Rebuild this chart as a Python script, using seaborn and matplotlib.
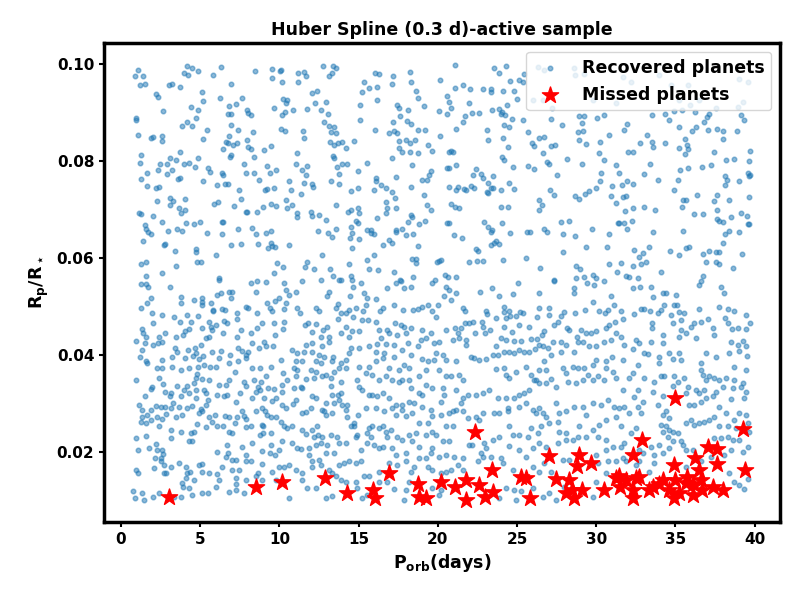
import matplotlib
matplotlib.use("Agg")
import pandas as pd
import seaborn as sns
import matplotlib.pyplot as plt

# recovered planets, (orbital period [d], Rp/Rs) in blocks
rec_upper_a = [
    (1.09, .0988), (0.88, .0975), (1.41, .0975), (1.18, .0957), (1.51, .0958), (4.19, .0996), (4.46, .0991), (3.98, .0982),
    (4.25, .0977), (4.88, .0986), (5.83, .0977), (6.33, .0993), (8.46, .0986), (9.56, .0989), (9.56, .0971), (10.02, .0986),
    (3.03, .0957), (3.24, .0958), (3.72, .0952), (6.97, .0958), (5.13, .0942), (2.19, .0938), (2.36, .0933), (6.25, .0931),
    (7.66, .0931), (5.20, .0924), (6.82, .0914), (7.28, .0918), (4.44, .0911), (4.88, .0905), (2.67, .0903), (9.66, .0909),
    (7.93, .0905), (8.04, .0900), (8.19, .0894), (6.78, .0897), (6.92, .0897), (0.97, .0889), (0.97, .0885), (4.76, .0888),
    (4.19, .0880), (3.87, .0872), (4.50, .0872), (6.97, .0874), (7.41, .0865), (5.45, .0864), (8.36, .0860), (1.09, .0854),
    (1.87, .0847), (2.04, .0849), (2.61, .0852), (2.61, .0842), (5.20, .0845), (6.82, .0852), (6.61, .0839), (6.76, .0837),
    (7.09, .0834), (7.35, .0837), (7.93, .0843), (8.04, .0830), (8.19, .0825), (6.46, .0825), (9.03, .0823), (9.49, .0831),
    (1.28, .0813), (1.20, .0797), (3.72, .0818), (2.46, .0794), (3.09, .0806), (3.45, .0802), (2.92, .0795), (3.24, .0781),
    (2.36, .0781), (4.00, .0793), (4.29, .0797), (4.88, .0806), (4.67, .0787), (6.92, .0813), (6.88, .0808), (7.79, .0795),
    (8.42, .0809), (9.24, .0790), (9.77, .0781), (5.49, .0785), (5.64, .0777), (6.40, .0776), (6.46, .0771), (7.89, .0775),
    (8.42, .0775), (9.39, .0775), (1.66, .0775), (1.28, .0763), (3.62, .0763), (3.72, .0766), (2.92, .0773), (5.20, .0759),
    (6.08, .0751), (6.57, .0752), (6.74, .0752), (8.71, .0762), (1.66, .0749), (2.23, .0744), (2.40, .0746), (7.45, .0740),
    (9.09, .0740), (9.24, .0742), (9.66, .0744), (2.25, .0718), (3.09, .0723), (3.30, .0718), (3.09, .0709), (4.06, .0721),
    (3.64, .0703), (4.06, .0700), (3.81, .0692), (5.87, .0711), (6.12, .0715), (7.16, .0707), (7.56, .0721), (7.87, .0696),
    (7.98, .0696), (8.61, .0696), (8.99, .0706), (9.45, .0711), (9.77, .0707), (1.13, .0692), (1.24, .0691), (2.04, .0687),
    (1.51, .0668), (1.56, .0659), (1.70, .0653), (1.89, .0650), (2.61, .0674), (2.99, .0656), (3.51, .0661), (3.87, .0656),
    (4.12, .0672), (4.61, .0670), (4.99, .0674), (5.45, .0651), (6.40, .0674), (6.46, .0675), (6.40, .0650), (7.41, .0659),
    (8.29, .0663), (8.50, .0649), (9.13, .0651), (9.45, .0656), (1.41, .0635), (2.78, .0630), (2.71, .0626), (3.41, .0615),
    (4.71, .0618), (4.76, .0612), (5.98, .0606), (6.97, .0627), (7.60, .0630), (8.67, .0630), (9.45, .0632), (9.56, .0625),
    (9.72, .0622), (9.28, .0620), (1.28, .0587), (1.56, .0592), (4.82, .0592), (5.07, .0591), (3.49, .0583), (2.61, .0570),
    (1.56, .0564), (6.19, .0558), (9.66, .0570), (9.87, .0589),
]

rec_upper_b = [
    (10.09, .0988), (10.19, .0962), (11.20, .0981), (11.56, .0984), (11.66, .0975), (11.20, .0962), (12.78, .0996), (13.41, .0995),
    (13.56, .0991), (13.35, .0982), (13.14, .0975), (10.23, .0929), (10.51, .0926), (10.40, .0920), (12.09, .0940), (12.40, .0944),
    (12.25, .0919), (12.97, .0921), (11.77, .0907), (10.89, .0905), (10.36, .0902), (10.19, .0895), (12.61, .0905), (13.10, .0898),
    (12.82, .0880), (13.14, .0872), (13.45, .0870), (13.56, .0857), (13.24, .0859), (11.52, .0862), (11.56, .0847), (10.36, .0861),
    (10.09, .0867), (13.20, .0840), (13.45, .0833), (13.73, .0837), (13.94, .0840), (14.23, .0826), (14.74, .0842), (13.41, .0810),
    (13.45, .0807), (11.14, .0816), (11.07, .0793), (11.45, .0782), (11.77, .0790), (11.71, .0771), (13.66, .0787), (13.98, .0795),
    (14.30, .0795), (13.79, .0773), (14.97, .0779), (15.50, .0797), (10.61, .0759), (11.56, .0754), (12.09, .0752), (12.13, .0746),
    (10.76, .0740), (11.35, .0732), (13.29, .0759), (13.79, .0752), (14.53, .0738), (14.99, .0745), (10.44, .0720), (10.51, .0703),
    (10.78, .0709), (11.14, .0694), (11.14, .0685), (12.02, .0696), (12.09, .0687), (12.53, .0689), (12.93, .0678), (13.60, .0709),
    (14.36, .0696), (14.53, .0699), (14.99, .0703), (15.05, .0694), (14.82, .0676), (14.99, .0672), (14.53, .0665), (14.61, .0651),
    (12.46, .0656), (13.10, .0651), (13.35, .0644), (13.56, .0659), (14.44, .0642), (15.03, .0639), (10.61, .0627), (14.61, .0620),
    (12.67, .0606), (11.77, .0591), (11.62, .0582), (12.19, .0577), (10.25, .0582), (13.22, .0577), (13.41, .0564), (14.42, .0588),
    (14.51, .0564), (13.90, .0555),
    (15.37, .0964), (15.20, .0942), (15.66, .0950), (16.02, .0981), (16.30, .0979), (16.19, .0952), (16.19, .0926), (17.20, .0976),
    (17.14, .0958), (18.23, .0983), (18.30, .0964), (20.17, .0967), (18.65, .0944), (18.72, .0931), (20.61, .0935), (15.10, .0916),
    (15.10, .0885), (16.06, .0864), (17.45, .0916), (17.56, .0909), (18.09, .0905), (17.62, .0893), (18.06, .0883), (18.30, .0876),
    (17.20, .0880), (16.89, .0857), (17.24, .0861), (17.41, .0857), (18.78, .0865), (19.20, .0864), (19.14, .0914), (20.09, .0903),
    (20.61, .0897), (17.52, .0841), (17.98, .0843), (18.25, .0837), (18.57, .0843), (17.56, .0826), (17.73, .0818), (18.23, .0819),
    (18.72, .0816), (19.41, .0833), (19.66, .0821), (20.17, .0852), (20.72, .0818), (17.10, .0806), (18.40, .0791), (16.13, .0766),
    (16.13, .0759), (16.40, .0751), (16.72, .0744), (17.39, .0767), (17.14, .0737), (17.29, .0723), (18.30, .0746), (18.99, .0762),
    (19.29, .0761), (19.56, .0780), (19.45, .0771), (20.61, .0785), (19.10, .0731), (15.98, .0740), (16.72, .0715), (16.82, .0704),
    (16.72, .0692), (17.35, .0703), (16.15, .0682), (17.33, .0654), (17.39, .0658), (17.77, .0661), (18.36, .0685), (18.30, .0689),
    (18.15, .0674), (18.82, .0670), (19.18, .0677), (19.31, .0709), (19.60, .0700), (20.61, .0672), (17.98, .0647), (18.46, .0649),
    (15.52, .0658), (15.77, .0658), (15.98, .0649), (15.77, .0652), (16.93, .0637), (17.10, .0632), (16.57, .0627), (18.78, .0625),
    (18.40, .0599), (18.65, .0599), (18.65, .0589), (15.50, .0597), (15.98, .0606), (15.66, .0577), (16.25, .0575), (17.24, .0571),
    (17.60, .0555), (18.46, .0562), (20.09, .0595), (20.19, .0597), (19.98, .0591), (20.44, .0565), (20.67, .0562),
]

rec_upper_c = [
    (21.10, .0998), (23.56, .0991), (23.84, .0982), (24.30, .0996), (24.57, .0965), (25.10, .0967), (25.39, .0964), (25.46, .0979),
    (21.56, .0957), (21.10, .0950), (22.05, .0948), (22.83, .0948), (23.35, .0948), (23.35, .0943), (24.13, .0944), (24.78, .0944),
    (24.99, .0929), (20.72, .0922), (21.94, .0920), (20.83, .0909), (22.19, .0900), (22.57, .0900), (23.41, .0905), (23.88, .0907),
    (24.05, .0902), (23.98, .0897), (24.26, .0895), (24.66, .0886), (24.34, .0916), (25.35, .0885), (21.56, .0881), (21.73, .0892),
    (21.18, .0867), (24.19, .0874), (24.47, .0870), (23.08, .0864), (23.20, .0843), (24.13, .0847), (24.40, .0828), (25.67, .0859),
    (25.94, .0837), (26.09, .0831), (26.40, .0847), (26.72, .0849), (27.14, .0886), (27.81, .0874), (27.14, .0831), (27.41, .0833),
    (26.61, .0816), (26.89, .0799), (27.04, .0795), (28.13, .0804), (28.89, .0893), (29.25, .0893), (29.10, .0879), (30.03, .0888),
    (30.51, .0895), (28.83, .0859), (29.14, .0862), (28.89, .0843), (29.35, .0835), (30.78, .0854), (30.24, .0839), (30.19, .0817),
    (30.51, .0802), (20.99, .0819), (20.83, .0821), (21.18, .0792), (20.72, .0785), (24.05, .0808), (24.15, .0802), (24.72, .0787),
    (25.67, .0790), (26.09, .0783), (27.50, .0771), (29.10, .0795), (30.30, .0776), (30.24, .0759), (31.25, .0792), (22.40, .0784),
    (22.24, .0771), (22.72, .0773), (22.83, .0766), (23.46, .0769), (23.20, .0754), (23.35, .0744), (23.50, .0744), (23.10, .0737),
    (23.20, .0735), (23.98, .0740), (24.51, .0755), (24.78, .0742), (22.09, .0749), (22.30, .0744), (21.25, .0747), (21.63, .0742),
    (21.77, .0740), (21.14, .0740), (20.72, .0747), (20.83, .0711), (21.10, .0706), (21.31, .0703), (23.98, .0706), (24.40, .0706),
    (26.40, .0720), (26.57, .0709), (26.40, .0700), (27.08, .0740), (27.35, .0731), (28.68, .0728), (28.89, .0721), (29.31, .0733),
    (29.56, .0738), (29.98, .0744), (30.97, .0749), (30.93, .0727), (31.25, .0714), (31.35, .0672), (22.93, .0674), (23.14, .0665),
    (23.41, .0658), (23.35, .0654), (24.03, .0672), (24.57, .0651), (25.63, .0654), (25.84, .0653), (26.72, .0661), (26.87, .0654),
    (27.77, .0675), (28.30, .0676), (29.73, .0661), (27.88, .0650), (28.68, .0646), (30.78, .0649), (21.04, .0648), (21.52, .0641),
    (20.72, .0672), (23.67, .0635), (23.56, .0632), (23.35, .0628), (23.84, .0630), (22.40, .0618), (22.51, .0615), (29.35, .0622),
    (30.66, .0623), (27.88, .0613), (21.98, .0591), (22.47, .0594), (22.83, .0594), (24.09, .0597), (25.56, .0601), (26.45, .0579),
    (28.72, .0584), (28.99, .0577), (29.77, .0565), (29.98, .0560), (30.78, .0588), (31.29, .0571), (27.35, .0555), (28.72, .0560),
    (29.25, .0562), (21.14, .0562), (26.30, .0993), (26.72, .0988), (28.61, .0991), (28.68, .0977), (29.25, .0979), (25.98, .0926),
    (26.61, .0925), (29.81, .0926), (31.25, .0919), (27.20, .0909),
]

rec_upper_d = [
    (33.50, .0895), (34.37, .0898), (34.62, .0885), (34.93, .0903), (35.40, .0905), (36.26, .0902), (37.10, .0898), (36.98, .0890),
    (36.83, .0881), (39.14, .0894), (39.31, .0885), (31.92, .0876), (31.78, .0865), (33.19, .0854), (33.50, .0840), (33.57, .0830),
    (32.77, .0837), (31.99, .0818), (32.34, .0818), (34.37, .0837), (35.21, .0870), (35.63, .0845), (35.73, .0833), (35.78, .0824),
    (35.21, .0826), (36.03, .0861), (36.30, .0871), (37.04, .0864), (37.61, .0867), (37.99, .0862), (38.03, .0845), (38.87, .0861),
    (35.61, .0814), (37.46, .0818), (39.69, .0821), (39.63, .0800), (38.20, .0802), (38.72, .0804), (33.42, .0795), (35.31, .0781),
    (35.78, .0785), (36.66, .0787), (37.25, .0792), (31.46, .0776), (33.04, .0773), (33.88, .0761), (31.94, .0759), (32.30, .0753),
    (31.63, .0751), (35.14, .0761), (34.93, .0740), (38.15, .0770), (38.24, .0761), (38.15, .0751), (39.00, .0759), (39.63, .0769),
    (39.57, .0776), (39.71, .0771), (31.88, .0729), (31.67, .0725), (35.46, .0720), (35.67, .0720), (36.34, .0730), (37.61, .0730),
    (37.46, .0718), (38.41, .0720), (39.63, .0725), (31.84, .0697), (32.34, .0703), (33.04, .0706), (33.73, .0699), (35.40, .0706),
    (36.20, .0691), (36.77, .0691), (37.61, .0699), (37.61, .0680), (37.78, .0676), (37.99, .0674), (38.51, .0685), (39.14, .0694),
    (39.50, .0687), (39.57, .0670), (39.67, .0670), (31.46, .0672), (31.78, .0672), (32.24, .0676), (31.92, .0661), (33.57, .0653),
    (35.46, .0656), (38.41, .0656), (38.15, .0650), (39.04, .0653), (37.99, .0632), (32.41, .0617), (32.93, .0610), (32.68, .0603),
    (33.35, .0622), (34.68, .0615), (35.21, .0606), (35.67, .0620), (35.84, .0623), (36.72, .0608), (37.14, .0615), (37.57, .0612),
    (37.73, .0613), (39.19, .0609), (33.14, .0591), (32.83, .0587), (32.30, .0584), (31.57, .0589), (34.07, .0572), (36.93, .0591),
    (37.57, .0591), (37.78, .0588), (38.62, .0579), (31.88, .0563), (32.09, .0562), (32.62, .0560), (36.77, .0563), (31.67, .0974),
    (32.20, .0962), (33.99, .0977), (34.72, .0957), (35.78, .0957), (39.04, .0969), (39.57, .0962), (35.25, .0926), (35.92, .0916),
    (36.51, .0926), (37.57, .0909), (39.25, .0922), (38.93, .0911),
]

rec_lower_a = [
    (1.24, .0547), (1.60, .0547), (1.72, .0540), (3.07, .0540), (6.19, .0555), (8.19, .0548), (8.57, .0552), (9.13, .0550),
    (8.55, .0531), (6.82, .0531), (6.29, .0528), (6.04, .0524), (5.66, .0508), (5.09, .0517), (5.09, .0510), (5.09, .0503),
    (4.61, .0514), (3.81, .0519), (3.81, .0507), (1.87, .0517), (1.66, .0508), (1.24, .0497), (6.92, .0517), (7.03, .0531),
    (7.91, .0500), (8.04, .0497), (9.24, .0507), (9.39, .0497), (9.51, .0490), (9.70, .0512), (5.83, .0493), (5.83, .0490),
    (6.40, .0495), (6.55, .0493), (7.35, .0486), (7.35, .0474), (8.61, .0486), (1.93, .0486), (2.61, .0483), (3.35, .0479),
    (4.19, .0483), (4.88, .0481), (4.40, .0469), (3.72, .0469), (2.02, .0466), (5.56, .0469), (5.66, .0459), (5.77, .0452),
    (5.98, .0462), (6.50, .0471), (6.67, .0466), (6.46, .0446), (5.09, .0455), (4.29, .0453), (4.04, .0449), (3.91, .0442),
    (3.45, .0438), (2.78, .0445), (2.40, .0438), (2.61, .0428), (2.33, .0424), (2.04, .0421), (1.35, .0453), (1.41, .0445),
    (1.56, .0438), (0.97, .0429), (1.51, .0424), (1.30, .0411), (1.18, .0396), (1.56, .0387), (2.61, .0390), (3.39, .0414),
    (3.56, .0407), (4.23, .0411), (4.76, .0405), (5.03, .0421), (5.35, .0435), (5.56, .0438), (4.67, .0414), (5.72, .0407),
    (6.33, .0409), (6.19, .0394), (5.18, .0398), (4.92, .0391), (4.57, .0398), (4.02, .0394), (3.24, .0397), (6.88, .0400),
    (7.41, .0414), (7.62, .0409), (7.87, .0400), (7.91, .0394), (8.04, .0407), (8.29, .0424), (8.71, .0414), (9.03, .0428),
    (9.13, .0418), (9.62, .0418), (9.72, .0442), (9.66, .0466), (8.92, .0466), (8.61, .0455), (7.56, .0452), (7.30, .0438),
    (8.19, .0445), (7.41, .0387), (6.82, .0383), (7.20, .0366), (5.98, .0376), (5.60, .0376), (5.24, .0380), (4.86, .0375),
    (4.82, .0361), (4.29, .0373), (3.77, .0369), (3.24, .0376), (2.61, .0373), (2.29, .0373), (1.66, .0383), (8.29, .0373),
    (8.78, .0373), (9.45, .0376), (9.13, .0356), (8.82, .0345), (9.30, .0332), (9.66, .0330), (9.77, .0311), (9.51, .0306),
    (9.03, .0311), (8.65, .0334), (8.76, .0328), (8.50, .0323), (8.40, .0349), (8.29, .0311), (7.77, .0345), (7.87, .0337),
    (7.49, .0321), (7.24, .0304), (6.82, .0349), (6.61, .0339), (6.19, .0339), (6.08, .0318), (6.50, .0315), (6.71, .0318),
    (5.56, .0349), (5.09, .0351), (4.76, .0352), (4.61, .0342), (4.71, .0328), (5.24, .0328), (5.35, .0321), (5.51, .0308),
    (5.35, .0297), (5.03, .0288), (4.76, .0311), (4.29, .0321), (3.98, .0328), (4.19, .0337), (3.56, .0337), (3.77, .0316),
    (3.66, .0294), (3.30, .0301), (3.07, .0315), (3.13, .0321), (2.78, .0325), (2.65, .0341), (2.40, .0352), (1.98, .0335),
    (1.87, .0330), (1.51, .0315), (0.92, .0349), (1.13, .0297), (1.30, .0287), (1.35, .0273), (1.66, .0277), (1.87, .0287),
    (2.19, .0295), (2.50, .0294), (2.78, .0294), (3.13, .0290), (2.82, .0278), (2.29, .0272), (2.61, .0268), (1.87, .0266),
    (1.24, .0263), (1.56, .0260), (2.40, .0253), (3.45, .0273), (3.83, .0277), (4.19, .0292), (4.46, .0295), (4.92, .0280),
    (5.13, .0284), (5.56, .0272), (5.93, .0277), (5.77, .0263), (6.57, .0275), (6.82, .0273), (7.35, .0273), (7.77, .0275),
    (7.91, .0268), (7.62, .0285), (8.50, .0284), (8.92, .0290), (9.07, .0284), (9.24, .0277), (9.45, .0273), (9.77, .0273),
    (8.88, .0256), (8.97, .0253), (9.45, .0240), (8.97, .0239), (8.76, .0236), (8.19, .0253), (7.87, .0251), (7.20, .0260),
    (7.03, .0239), (6.82, .0242), (6.46, .0253), (6.08, .0253), (5.35, .0251), (4.82, .0258), (4.61, .0242), (4.40, .0239),
    (4.50, .0222), (4.29, .0222), (3.77, .0242), (3.13, .0246), (3.13, .0229), (1.56, .0234), (0.92, .0229), (1.77, .0208),
    (2.23, .0217), (2.29, .0205), (2.61, .0205), (2.65, .0196), (2.50, .0187), (2.15, .0187), (2.50, .0181), (2.71, .0174),
    (2.08, .0167), (1.09, .0205), (0.92, .0163), (1.09, .0158), (3.13, .0170), (3.66, .0177), (4.08, .0170), (4.33, .0160),
    (4.92, .0174), (5.09, .0176), (5.56, .0158), (6.08, .0154), (6.08, .0201), (6.67, .0214), (6.76, .0198), (6.61, .0191),
    (7.03, .0184), (7.24, .0184), (7.66, .0211), (7.87, .0194), (8.19, .0181), (7.45, .0163), (7.87, .0181), (8.29, .0218),
    (8.92, .0203), (9.49, .0215), (9.41, .0198), (9.70, .0194), (8.92, .0176), (9.56, .0160), (8.67, .0157), (7.24, .0146),
    (7.03, .0163), (6.40, .0170), (6.19, .0143), (7.28, .0135), (7.87, .0143), (8.50, .0150), (8.92, .0143), (9.77, .0143),
    (4.19, .0157), (4.08, .0146), (3.83, .0136), (4.61, .0143), (5.13, .0160), (3.91, .0129), (4.29, .0126), (3.77, .0108),
    (4.50, .0112), (5.13, .0115), (5.49, .0115), (5.98, .0129), (6.82, .0117), (7.24, .0122), (7.77, .0115), (0.76, .0120),
    (0.88, .0105), (1.35, .0115), (1.45, .0102), (2.04, .0108), (2.40, .0115), (2.71, .0158), (2.82, .0157), (3.35, .0108),
]

rec_lower_b = [
    (11.45, .0552), (10.30, .0548), (10.44, .0534), (10.61, .0524), (11.07, .0531), (9.98, .0517), (10.40, .0507), (10.30, .0495),
    (11.14, .0497), (11.29, .0486), (12.61, .0555), (13.77, .0555), (14.57, .0555), (14.65, .0541), (15.14, .0548), (13.14, .0531),
    (12.99, .0522), (14.46, .0521), (15.35, .0528), (15.50, .0517), (16.82, .0538), (17.35, .0548), (17.66, .0552), (17.87, .0538),
    (18.30, .0541), (19.62, .0548), (19.83, .0555), (20.51, .0541), (20.40, .0521), (20.04, .0503), (19.35, .0503), (19.03, .0500),
    (18.78, .0495), (19.66, .0490), (19.87, .0479), (18.44, .0493), (17.83, .0493), (17.24, .0503), (16.51, .0497), (16.34, .0490),
    (16.09, .0515), (15.45, .0503), (15.29, .0490), (14.82, .0497), (14.40, .0493), (14.19, .0486), (13.87, .0486), (13.60, .0497),
    (13.73, .0506), (12.51, .0490), (12.30, .0497), (10.30, .0469), (10.23, .0453), (11.62, .0462), (11.83, .0466), (12.04, .0447),
    (12.30, .0464), (12.78, .0452), (13.03, .0457), (13.14, .0438), (13.14, .0428), (12.61, .0438), (12.72, .0418), (12.09, .0424),
    (11.66, .0421), (10.82, .0411), (11.14, .0404), (11.56, .0407), (12.09, .0407), (12.51, .0400), (13.87, .0445), (13.73, .0474),
    (14.67, .0478), (15.20, .0473), (15.62, .0473), (16.09, .0469), (15.03, .0449), (14.57, .0449), (14.40, .0438), (14.19, .0459),
    (16.30, .0452), (16.82, .0452), (16.93, .0445), (16.40, .0435), (16.19, .0422), (16.72, .0422), (17.24, .0421), (17.45, .0442),
    (17.31, .0466), (17.66, .0462), (17.87, .0459), (17.98, .0445), (18.30, .0455), (19.03, .0452), (19.24, .0435), (18.93, .0431),
    (19.56, .0445), (19.77, .0426), (20.09, .0428), (20.51, .0452), (19.87, .0404), (19.77, .0390), (20.30, .0400), (20.51, .0390),
    (19.35, .0387), (18.99, .0392), (18.72, .0418), (18.30, .0400), (18.15, .0424), (17.77, .0411), (17.24, .0397), (16.61, .0405),
    (16.09, .0407), (15.66, .0418), (15.03, .0414), (14.51, .0414), (14.40, .0404), (14.19, .0390), (13.87, .0383), (13.39, .0396),
    (13.35, .0387), (12.82, .0397), (12.61, .0383), (12.30, .0387), (11.98, .0369), (11.45, .0388), (11.03, .0387), (10.93, .0373),
    (11.14, .0369), (10.09, .0390), (10.23, .0363), (10.19, .0339), (10.19, .0324), (10.51, .0349), (11.07, .0356), (10.93, .0332),
    (11.45, .0332), (11.35, .0335), (11.66, .0350), (12.19, .0352), (12.30, .0366), (12.72, .0356), (12.93, .0359), (13.24, .0352),
    (13.45, .0366), (13.77, .0373), (14.19, .0373), (13.87, .0345), (13.24, .0337), (13.35, .0318), (13.73, .0318), (13.77, .0308),
    (13.45, .0301), (12.93, .0301), (12.82, .0284), (13.35, .0280), (12.93, .0277), (12.72, .0286), (12.30, .0311), (12.09, .0315),
    (11.98, .0290), (11.71, .0282), (11.41, .0280), (11.03, .0308), (10.89, .0299), (10.40, .0290), (10.19, .0297), (10.09, .0263),
    (10.30, .0253), (10.51, .0249), (10.82, .0253), (11.45, .0246), (11.66, .0238), (12.09, .0246), (12.40, .0253), (12.46, .0236),
    (12.19, .0232), (12.72, .0232), (12.61, .0218), (12.30, .0215), (11.87, .0208), (11.35, .0206), (11.14, .0208), (10.82, .0218),
    (10.19, .0222), (9.98, .0205), (11.87, .0194), (12.09, .0181), (12.51, .0184), (12.61, .0174), (12.93, .0198), (13.03, .0215),
    (13.24, .0236), (13.66, .0232), (13.77, .0218), (13.45, .0198), (14.19, .0218), (14.30, .0273), (14.72, .0253), (14.51, .0253),
    (14.82, .0232), (14.93, .0236), (15.50, .0239), (15.66, .0249), (15.87, .0253), (16.30, .0249), (16.51, .0253), (16.72, .0242),
    (16.82, .0232), (17.03, .0246), (17.45, .0232), (17.77, .0225), (18.19, .0236), (18.61, .0239), (19.24, .0236), (19.66, .0242),
    (19.66, .0208), (19.87, .0236), (20.30, .0222), (20.51, .0253), (20.19, .0277), (19.66, .0275), (19.56, .0287), (19.35, .0260),
    (18.82, .0260), (18.40, .0280), (17.98, .0275), (17.77, .0287), (17.35, .0277), (17.14, .0290), (16.61, .0284), (16.09, .0290),
    (15.45, .0290), (14.99, .0277), (14.72, .0260), (14.19, .0287), (14.30, .0297), (13.94, .0297), (13.87, .0321), (14.93, .0349),
    (15.03, .0335), (15.24, .0328), (15.66, .0318), (15.83, .0318), (16.19, .0315), (16.51, .0321), (16.93, .0311), (17.35, .0297),
    (17.77, .0297), (18.19, .0304), (18.51, .0301), (19.03, .0294), (18.82, .0321), (19.03, .0318), (19.24, .0339), (19.66, .0332),
    (20.30, .0332), (20.40, .0318), (20.19, .0304), (20.51, .0356), (20.09, .0369), (19.24, .0369), (18.82, .0356), (18.30, .0332),
    (18.19, .0349), (17.77, .0349), (17.56, .0345), (17.14, .0349), (16.72, .0356), (16.30, .0349), (15.83, .0359), (15.45, .0363),
    (15.03, .0376), (15.66, .0376), (16.09, .0387), (16.51, .0394), (16.93, .0373), (17.56, .0369), (17.87, .0380), (18.19, .0373),
    (15.14, .0205), (15.56, .0218), (15.77, .0232), (15.98, .0215), (16.30, .0208), (16.51, .0211), (17.14, .0208), (17.35, .0194),
    (17.98, .0198), (18.40, .0222), (18.82, .0211), (19.24, .0187), (19.56, .0198), (20.09, .0191), (20.51, .0194), (15.14, .0181),
    (14.82, .0177), (14.40, .0181), (14.09, .0177), (13.77, .0174), (13.14, .0163), (13.35, .0157), (13.56, .0150), (13.87, .0143),
    (12.09, .0170), (11.45, .0157), (11.45, .0143), (11.03, .0163), (10.61, .0174), (10.30, .0170), (9.98, .0170), (14.19, .0139),
    (14.82, .0139), (15.35, .0150), (15.66, .0150), (16.30, .0139), (16.82, .0139), (16.30, .0160), (16.93, .0177), (17.45, .0174),
    (17.98, .0181), (18.51, .0170), (18.30, .0160), (18.82, .0187), (19.35, .0170), (19.66, .0163), (20.19, .0157), (20.51, .0160),
    (11.77, .0126), (12.30, .0126), (12.93, .0105), (13.35, .0110), (10.61, .0105), (17.98, .0122), (17.87, .0102), (17.24, .0124),
    (15.24, .0105), (15.56, .0112), (20.09, .0112), (20.19, .0122), (19.66, .0126), (18.19, .0139), (14.93, .0126),
]

rec_lower_c = [
    (20.72, .0534), (21.14, .0528), (20.83, .0514), (21.56, .0497), (21.73, .0490), (22.66, .0530), (23.41, .0538), (23.84, .0522),
    (24.72, .0526), (25.04, .0548), (26.36, .0528), (27.35, .0552), (28.61, .0538), (28.61, .0528), (29.39, .0548), (29.88, .0545),
    (30.51, .0552), (30.93, .0521), (31.14, .0503), (29.77, .0510), (29.31, .0493), (28.68, .0486), (27.98, .0488), (27.77, .0481),
    (26.99, .0497), (26.99, .0483), (26.40, .0497), (26.24, .0478), (25.77, .0459), (25.18, .0488), (24.93, .0481), (25.35, .0486),
    (24.55, .0481), (24.47, .0490), (24.19, .0500), (24.19, .0488), (24.30, .0476), (23.04, .0490), (23.10, .0484), (22.76, .0469),
    (22.83, .0459), (22.24, .0469), (21.98, .0466), (21.73, .0466), (21.46, .0455), (21.10, .0455), (21.25, .0445), (20.97, .0431),
    (21.35, .0435), (21.77, .0431), (21.81, .0421), (22.36, .0445), (22.99, .0445), (23.29, .0451), (23.67, .0476), (24.15, .0459),
    (24.68, .0447), (25.14, .0462), (23.98, .0435), (24.30, .0431), (24.83, .0429), (25.25, .0429), (25.88, .0433), (26.24, .0433),
    (26.72, .0449), (26.57, .0442), (27.35, .0462), (27.56, .0469), (28.13, .0455), (28.30, .0452), (28.76, .0438), (29.04, .0452),
    (29.35, .0445), (29.67, .0445), (29.98, .0449), (30.61, .0455), (30.83, .0462), (31.18, .0469), (30.57, .0486), (30.19, .0490),
    (30.72, .0493), (31.25, .0445), (30.93, .0431), (30.51, .0428), (29.98, .0418), (29.56, .0418), (29.14, .0428), (28.83, .0428),
    (28.61, .0407), (28.09, .0421), (27.77, .0428), (27.77, .0407), (27.25, .0428), (26.93, .0414), (26.61, .0418), (26.36, .0421),
    (26.15, .0412), (25.77, .0407), (25.46, .0407), (25.14, .0411), (24.83, .0404), (24.51, .0407), (24.19, .0407), (23.67, .0419),
    (23.77, .0400), (23.46, .0400), (23.04, .0391), (22.61, .0390), (22.30, .0394), (22.09, .0397), (21.14, .0387), (23.67, .0371),
    (24.19, .0373), (24.30, .0359), (24.51, .0352), (24.93, .0366), (25.56, .0376), (25.88, .0359), (26.19, .0349), (26.40, .0369),
    (26.83, .0369), (26.72, .0387), (27.14, .0400), (27.88, .0373), (28.09, .0363), (28.51, .0375), (28.83, .0373), (29.25, .0373),
    (29.77, .0380), (29.98, .0390), (30.61, .0387), (30.99, .0397), (30.61, .0373), (31.04, .0366), (31.25, .0352), (30.51, .0349),
    (30.09, .0356), (29.77, .0349), (29.46, .0359), (29.14, .0349), (28.72, .0342), (28.19, .0345), (27.46, .0335), (27.14, .0350),
    (26.83, .0342), (26.40, .0342), (26.09, .0349), (25.77, .0328), (25.46, .0321), (25.14, .0318), (24.83, .0311), (24.30, .0311),
    (23.77, .0311), (23.25, .0328), (22.83, .0321), (22.40, .0318), (21.88, .0318), (21.56, .0311), (21.46, .0301), (21.14, .0328),
    (20.83, .0356), (21.35, .0359), (21.56, .0349), (20.72, .0280), (20.93, .0284), (21.14, .0287), (21.56, .0284), (21.88, .0270),
    (22.40, .0273), (22.61, .0266), (22.83, .0280), (23.56, .0280), (23.88, .0280), (24.40, .0290), (24.40, .0284), (25.14, .0294),
    (25.56, .0301), (25.98, .0287), (26.19, .0280), (26.40, .0290), (26.61, .0280), (26.83, .0273), (27.46, .0301), (27.67, .0280),
    (28.09, .0284), (28.61, .0294), (29.14, .0294), (29.35, .0277), (29.77, .0301), (30.30, .0297), (30.72, .0308), (31.14, .0294),
    (31.25, .0273), (30.61, .0266), (30.19, .0256), (29.77, .0246), (29.35, .0232), (28.93, .0253), (28.83, .0232), (28.51, .0225),
    (28.09, .0239), (27.67, .0242), (27.56, .0263), (27.04, .0260), (26.51, .0253), (26.30, .0239), (25.88, .0249), (25.67, .0232),
    (25.14, .0236), (24.72, .0236), (24.51, .0253), (23.88, .0232), (23.46, .0225), (22.93, .0218), (23.04, .0208), (22.72, .0198),
    (22.83, .0191), (22.51, .0181), (21.98, .0215), (22.19, .0215), (21.56, .0187), (21.04, .0191), (20.83, .0163), (21.25, .0174),
    (21.56, .0163), (20.72, .0222), (20.93, .0253), (24.51, .0213), (25.14, .0205), (25.56, .0191), (25.98, .0208), (26.40, .0218),
    (26.83, .0211), (27.56, .0218), (28.09, .0225), (27.88, .0184), (28.30, .0184), (30.09, .0232), (30.61, .0225), (31.04, .0211),
    (30.61, .0205), (29.98, .0194), (30.09, .0177), (30.72, .0181), (31.25, .0181), (23.35, .0191), (23.98, .0187), (24.09, .0177),
    (24.72, .0163), (26.40, .0160), (26.72, .0177), (25.98, .0170), (27.14, .0160), (24.83, .0122), (25.25, .0119), (24.30, .0126),
    (23.88, .0105), (26.61, .0108), (27.04, .0115), (25.98, .0126), (29.98, .0139), (30.61, .0157), (29.77, .0108), (24.93, .0102),
    (27.46, .0102), (27.98, .0129),
]

rec_lower_d = [
    (32.30, .0538), (32.77, .0541), (33.46, .0541), (34.20, .0529), (34.41, .0529), (35.04, .0524), (36.51, .0545), (36.62, .0552),
    (37.88, .0541), (38.09, .0528), (33.57, .0519), (34.30, .0503), (34.93, .0503), (35.08, .0503), (32.83, .0495), (33.04, .0495),
    (33.40, .0490), (31.57, .0490), (32.41, .0485), (33.88, .0486), (34.09, .0493), (33.52, .0467), (33.52, .0455), (31.67, .0474),
    (34.72, .0483), (35.25, .0488), (35.52, .0486), (34.83, .0467), (35.35, .0473), (35.35, .0452), (35.67, .0445), (35.99, .0459),
    (36.20, .0467), (36.62, .0469), (37.04, .0474), (37.35, .0455), (37.46, .0442), (36.51, .0495), (37.78, .0500), (38.30, .0495),
    (38.72, .0490), (39.46, .0483), (38.15, .0476), (38.30, .0466), (38.58, .0453), (38.93, .0455), (39.46, .0453), (39.70, .0466),
    (34.20, .0442), (35.25, .0438), (36.30, .0435), (31.78, .0421), (32.51, .0431), (32.72, .0424), (33.46, .0428), (34.20, .0424),
    (31.57, .0438), (32.30, .0412), (33.04, .0404), (33.25, .0402), (33.94, .0396), (34.62, .0404), (34.83, .0391), (35.21, .0404),
    (35.35, .0390), (36.62, .0383), (36.93, .0405), (37.57, .0396), (38.41, .0404), (38.51, .0428), (38.93, .0421), (39.25, .0429),
    (39.46, .0419), (39.04, .0409), (39.52, .0399), (31.71, .0390), (32.62, .0380), (33.99, .0383), (32.30, .0363), (32.09, .0352),
    (33.04, .0352), (33.67, .0345), (34.09, .0356), (34.30, .0356), (34.93, .0356), (35.14, .0345), (35.57, .0352), (35.78, .0335),
    (35.67, .0321), (34.83, .0337), (34.20, .0315), (33.88, .0297), (33.57, .0325), (32.62, .0328), (32.93, .0304), (32.41, .0313),
    (31.67, .0328), (31.78, .0294), (31.46, .0290), (32.09, .0280), (32.83, .0280), (32.62, .0294), (34.20, .0277), (34.41, .0284),
    (34.62, .0270), (34.09, .0256), (34.41, .0253), (34.62, .0246), (34.83, .0242), (34.20, .0242), (34.51, .0232), (35.14, .0239),
    (35.67, .0261), (35.99, .0266), (36.20, .0256), (36.51, .0260), (36.83, .0263), (37.14, .0266), (37.46, .0273), (37.78, .0253),
    (38.20, .0280), (38.72, .0266), (39.04, .0280), (39.46, .0277), (39.57, .0261), (39.67, .0242), (38.83, .0249), (38.30, .0253),
    (37.88, .0229), (37.46, .0229), (38.30, .0231), (38.62, .0225), (37.78, .0294), (37.35, .0315), (36.93, .0311), (36.51, .0321),
    (36.30, .0328), (36.62, .0304), (36.20, .0297), (35.88, .0297), (36.83, .0328), (37.57, .0325), (37.99, .0335), (38.62, .0332),
    (39.14, .0335), (39.46, .0325), (39.35, .0311), (38.51, .0309), (37.78, .0349), (37.46, .0352), (37.14, .0356), (36.72, .0359),
    (36.62, .0369), (36.93, .0349), (38.20, .0352), (38.72, .0349), (39.25, .0342), (39.46, .0369), (38.72, .0376), (31.57, .0253),
    (31.78, .0218), (31.57, .0211), (32.20, .0239), (32.51, .0249), (32.72, .0205), (32.93, .0198), (33.46, .0211), (33.94, .0215),
    (33.67, .0194), (33.67, .0177), (34.20, .0198), (34.62, .0208), (35.35, .0222), (35.46, .0215), (35.67, .0205), (36.09, .0205),
    (36.62, .0181), (37.25, .0191), (38.09, .0194), (38.51, .0205), (39.25, .0201), (39.57, .0211), (39.04, .0225), (38.41, .0157),
    (38.72, .0139), (39.04, .0132), (39.35, .0124), (39.57, .0144), (31.67, .0187), (31.88, .0181), (32.51, .0174), (33.35, .0160),
    (32.72, .0181), (34.83, .0222), (35.67, .0170),
]

# missed planets
missed_planets = [
    (3.03, .0108), (8.50, .0128), (10.15, .0139), (12.87, .0146), (14.26, .0115), (15.90, .0122), (16.05, .0105), (16.93, .0156),
    (18.72, .0135), (18.82, .0108), (19.25, .0105), (20.20, .0139), (21.10, .0128), (21.77, .0142), (21.80, .0102), (22.34, .0242),
    (22.60, .0132), (23.00, .0108), (23.40, .0164), (23.46, .0118), (25.25, .0149), (25.56, .0146), (25.84, .0105), (27.04, .0192),
    (27.46, .0144), (28.10, .0115), (28.30, .0142), (28.50, .0122), (28.60, .0105), (28.79, .0171), (28.93, .0194), (29.10, .0122),
    (29.67, .0177), (30.50, .0122), (31.25, .0146), (31.50, .0128), (31.90, .0142), (32.30, .0122), (32.30, .0105), (32.30, .0194),
    (32.70, .0149), (32.87, .0226), (33.35, .0122), (33.99, .0135), (34.20, .0142), (34.60, .0122), (34.90, .0105), (34.93, .0173),
    (35.00, .0142), (35.00, .0311), (35.25, .0115), (35.70, .0149), (36.10, .0135), (36.10, .0111), (36.24, .0187), (36.50, .0163),
    (36.70, .0122), (37.04, .0211), (37.35, .0128), (37.60, .0175), (37.63, .0206), (38.00, .0122), (39.25, .0247), (39.36, .0164),
    (31.46, .0150), (32.51, .0146), (35.67, .0136), (36.62, .0143), (33.57, .0129),
]

cols = ["P_orb", "Rp_Rs"]
recovered = pd.DataFrame(rec_upper_a + rec_upper_b + rec_upper_c + rec_upper_d
                         + rec_lower_a + rec_lower_b + rec_lower_c + rec_lower_d, columns=cols)
missed = pd.DataFrame(missed_planets, columns=cols)

plt.rcParams["font.weight"] = "bold"
plt.rcParams["axes.labelweight"] = "bold"
plt.rcParams["axes.titleweight"] = "bold"

fig, ax = plt.subplots(figsize=(8, 6), dpi=100)
fig.subplots_adjust(left=0.13, right=0.975, bottom=0.13, top=0.928)

sns.scatterplot(data=recovered, x="P_orb", y="Rp_Rs", marker=".", s=42, color="#1f77b4",
                edgecolor="#1f77b4", linewidth=1.1, alpha=0.5, label="Recovered planets", ax=ax)
sns.scatterplot(data=missed, x="P_orb", y="Rp_Rs", marker="*", s=150, color="red",
                edgecolor="red", linewidth=1, label="Missed planets", ax=ax)

ax.set_xlim(-1.07, 41.6)
ax.set_ylim(0.0056, 0.1043)
ax.set_xticks([0, 5, 10, 15, 20, 25, 30, 35, 40])
ax.set_yticks([0.02, 0.04, 0.06, 0.08, 0.10])
ax.tick_params(width=1.5, labelsize=11)
for sp in ax.spines.values():
    sp.set_linewidth(2.5)

ax.set_title("Huber Spline (0.3 d)-active sample", fontsize=12.5)
ax.set_xlabel(r"$\mathbf{P_{orb}}$(days)", fontsize=12.5)
ax.set_ylabel(r"$\mathbf{R_p/R_\star}$", fontsize=12.5)
ax.legend(loc="upper right", prop={"weight": "bold", "size": 12.5})

fig.savefig("out.png", dpi=100)
